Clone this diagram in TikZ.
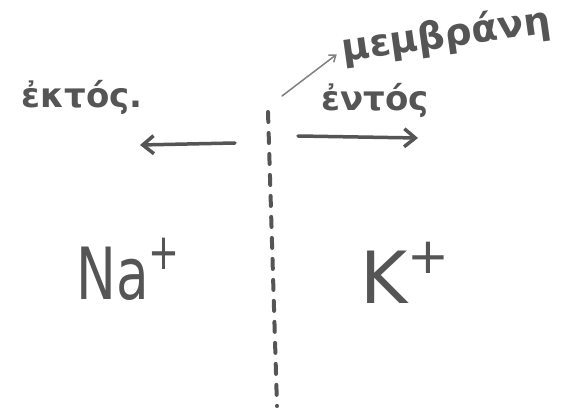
\documentclass[tikz,border=0pt]{standalone}
\usepackage{fontspec}
\setmainfont{DejaVu Sans}
\usetikzlibrary{arrows.meta, positioning}
\definecolor{ink}{HTML}{555555}
\tikzset{
  word/.style     = {text=ink, font=\fontsize{34}{38}\selectfont\bfseries, inner sep=0pt},
  ion/.style      = {text=ink, font=\fontsize{72}{80}\selectfont, inner sep=0pt},
  flow/.style     = {draw=ink, line width=3.5pt, line cap=round,
                     -{Straight Barb[length=11pt, width=18pt]}},
  pointer/.style  = {draw=ink!75, line width=1.5pt, line cap=round, shorten >=6pt,
                     -{Straight Barb[length=6pt, width=9pt]}},
  membrane/.style = {draw=ink, line width=4pt, line cap=round,
                     dash pattern=on 10pt off 11pt},
}
\newcommand{\charge}{\raisebox{0.42em}{\fontsize{50}{50}\selectfont +}}
\begin{document}
\begin{tikzpicture}[x=1pt, y=-1pt]
  \useasboundingbox (0,0) rectangle (565,419);
  \coordinate (mtop) at (268,112);
  \coordinate (mbot) at (277,406);
  \draw[membrane] (mtop) -- (mbot);

  \node[word] (out) at (82,97) {ἐκτός.};
  \node[word] (in) at (375,100) {ἐντός};
  \node[word, rotate=8, font=\fontsize{38}{40}\selectfont\bfseries] (memb) at (446,36) {μεμβράνη};

  \coordinate (outtail) at (235,143);
  \coordinate (outhead) at (140,145);
  \coordinate (intail) at (298,136);
  \coordinate (inhead) at (418,138);
  \draw[flow] (outtail) -- (outhead);
  \draw[flow] (intail) -- (inhead);
  \coordinate (ptail) at (282,96);
  \draw[pointer] (ptail) -- (memb.west);

  \node[ion, anchor=base west, xscale=0.74] (na) at (76,300) {Na\charge};
  \node[ion, anchor=base west] (k) at (360,304) {K\charge};
\end{tikzpicture}
\end{document}
